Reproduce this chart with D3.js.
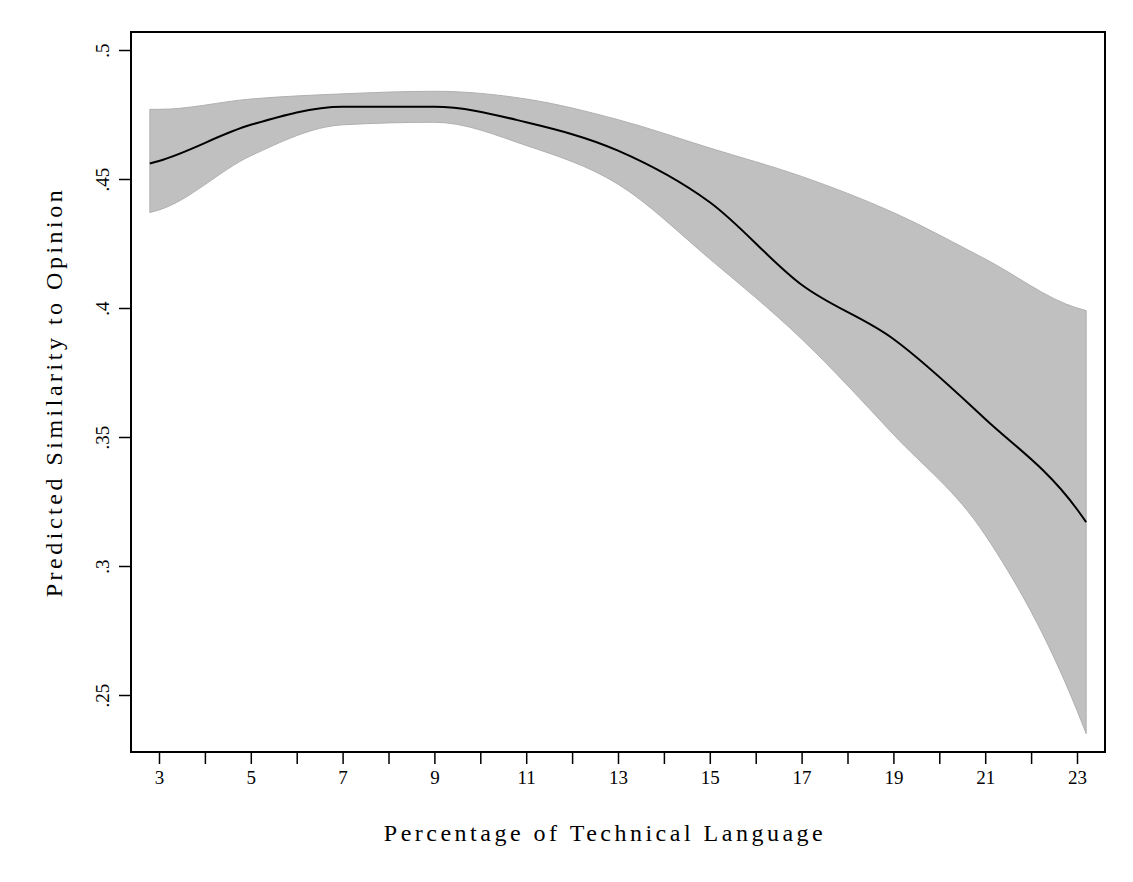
<!DOCTYPE html><html><head><script src="https://cdn.jsdelivr.net/npm/d3@7"></script>
<style>body{margin:0;background:#fff}text{font-family:"Liberation Serif",serif;fill:#000}</style></head><body>
<svg id="c" width="1133" height="882"></svg>
<script>
const xs=[2.8,3,5,7,9,11,13,15,17,19,21,23,23.2];
const fit=[.456,.457,.471,.478,.478,.472,.461,.441,.409,.388,.357,.322,.317];
const upper=[.477,.477,.481,.483,.484,.481,.473,.462,.451,.437,.419,.400,.399];
const lower=[.437,.438,.459,.471,.472,.463,.448,.419,.388,.351,.312,.244,.235];
const xTicks=[3,5,7,9,11,13,15,17,19,21,23];
const yTicks=[.25,.3,.35,.4,.45,.5];
const yLab=[".25",".3",".35",".4",".45",".5"];
const svg=d3.select("#c");
const L=131,R=1105,T=32,B=752;
const x=d3.scaleLinear().domain([3,23]).range([159,1077]);
const y=d3.scaleLinear().domain([.25,.5]).range([695,50]);
const pts=xs.map((v,i)=>({x:v,f:fit[i],u:upper[i],l:lower[i]}));
svg.append("path").datum(pts).attr("d",d3.area().curve(d3.curveMonotoneX).x(d=>x(d.x)).y0(d=>y(d.l)).y1(d=>y(d.u))).attr("fill","#c0c0c0").attr("stroke","#b0b0b0");
svg.append("path").datum(pts).attr("d",d3.line().curve(d3.curveMonotoneX).x(d=>x(d.x)).y(d=>y(d.f))).attr("fill","none").attr("stroke","#000").attr("stroke-width",2);
svg.append("rect").attr("x",L).attr("y",T).attr("width",R-L).attr("height",B-T).attr("fill","none").attr("stroke","#000").attr("stroke-width",2);
const xa=svg.append("g").attr("transform",`translate(0,${B})`).call(d3.axisBottom(x).tickValues(d3.range(3,24)).tickSize(12).tickFormat(d=>xTicks.includes(d)?d:""));
xa.select(".domain").remove();
xa.selectAll("line").attr("stroke-width",1.5);
xa.selectAll("text").attr("font-size",19).attr("dy","0.9em").style("font-family","Liberation Serif");
const ya=svg.append("g").attr("transform",`translate(${L},0)`).call(d3.axisLeft(y).tickValues(yTicks).tickSize(12).tickFormat((d,i)=>yLab[i]));
ya.select(".domain").remove();
ya.selectAll("line").attr("stroke-width",1.5);
ya.selectAll("text").attr("font-size",19).attr("transform","rotate(-90)").attr("x",0).attr("y",-22).attr("text-anchor","middle").attr("dy",0).style("font-family","Liberation Serif");
svg.append("text").attr("x",(L+R)/2-13).attr("y",841).attr("text-anchor","middle").attr("font-size",24).attr("letter-spacing",3.5).text("Percentage of Technical Language");
svg.append("text").attr("transform",`translate(62,${(T+B)/2}) rotate(-90)`).attr("text-anchor","middle").attr("font-size",24).attr("letter-spacing",3.5).text("Predicted Similarity to Opinion");
</script></body></html>
